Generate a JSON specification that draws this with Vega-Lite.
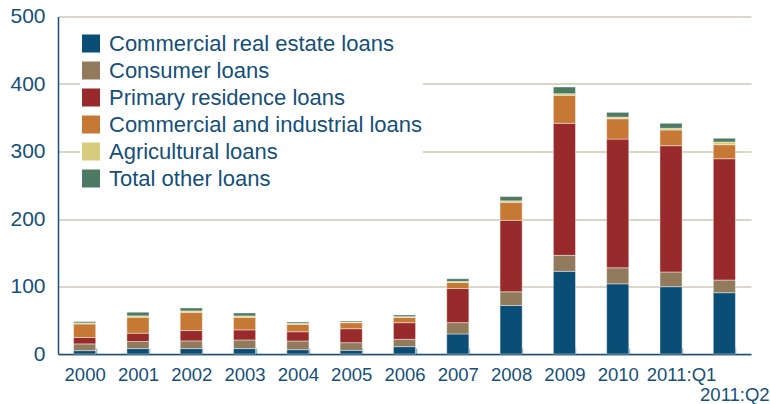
{
  "$schema": "https://vega.github.io/schema/vega-lite/v6.json",
  "autosize": {"type": "none"},
  "padding": {"left": 58, "top": 16.5, "right": 19, "bottom": 50},
  "width": 693,
  "height": 337.5,
  "background": "#ffffff",
  "data": {
    "values": [
      {"period": "2000", "Commercial real estate loans": 5, "Consumer loans": 10, "Primary residence loans": 9.5, "Commercial and industrial loans": 20, "Agricultural loans": 1.5, "Total other loans": 2},
      {"period": "2001", "Commercial real estate loans": 8, "Consumer loans": 10.5, "Primary residence loans": 12.3, "Commercial and industrial loans": 23.7, "Agricultural loans": 2, "Total other loans": 5.4},
      {"period": "2002", "Commercial real estate loans": 8, "Consumer loans": 11.4, "Primary residence loans": 15.3, "Commercial and industrial loans": 27.1, "Agricultural loans": 2, "Total other loans": 4.4},
      {"period": "2003", "Commercial real estate loans": 8, "Consumer loans": 12.8, "Primary residence loans": 14.9, "Commercial and industrial loans": 18.7, "Agricultural loans": 2, "Total other loans": 4.4},
      {"period": "2004", "Commercial real estate loans": 6.4, "Consumer loans": 12.9, "Primary residence loans": 13.7, "Commercial and industrial loans": 11, "Agricultural loans": 1.4, "Total other loans": 2},
      {"period": "2005", "Commercial real estate loans": 5.4, "Consumer loans": 11.4, "Primary residence loans": 20.7, "Commercial and industrial loans": 8.9, "Agricultural loans": 1, "Total other loans": 1.5},
      {"period": "2006", "Commercial real estate loans": 10.9, "Consumer loans": 10.8, "Primary residence loans": 24.7, "Commercial and industrial loans": 7.9, "Agricultural loans": 1, "Total other loans": 2.5},
      {"period": "2007", "Commercial real estate loans": 29.7, "Consumer loans": 16.8, "Primary residence loans": 50.5, "Commercial and industrial loans": 9, "Agricultural loans": 1.5, "Total other loans": 4},
      {"period": "2008", "Commercial real estate loans": 71.8, "Consumer loans": 20.3, "Primary residence loans": 105.9, "Commercial and industrial loans": 26.8, "Agricultural loans": 2.1, "Total other loans": 6.4},
      {"period": "2009", "Commercial real estate loans": 122.5, "Consumer loans": 23.7, "Primary residence loans": 195.6, "Commercial and industrial loans": 41.5, "Agricultural loans": 2.4, "Total other loans": 9.9},
      {"period": "2010", "Commercial real estate loans": 104, "Consumer loans": 23.8, "Primary residence loans": 190.6, "Commercial and industrial loans": 30.1, "Agricultural loans": 2.5, "Total other loans": 7},
      {"period": "2011:Q1", "Commercial real estate loans": 99.7, "Consumer loans": 21.8, "Primary residence loans": 187.1, "Commercial and industrial loans": 23.3, "Agricultural loans": 2.5, "Total other loans": 7.4},
      {"period": "2011:Q2", "Commercial real estate loans": 90.8, "Consumer loans": 18.8, "Primary residence loans": 179.7, "Commercial and industrial loans": 20.8, "Agricultural loans": 4, "Total other loans": 5.5}
    ]
  },
  "transform": [
    {"fold": ["Commercial real estate loans", "Consumer loans", "Primary residence loans", "Commercial and industrial loans", "Agricultural loans", "Total other loans"], "as": ["type", "value"]},
    {"lookup": "type", "from": {"data": {"values": [
      {"type": "Commercial real estate loans", "rank": 1},
      {"type": "Consumer loans", "rank": 2},
      {"type": "Primary residence loans", "rank": 3},
      {"type": "Commercial and industrial loans", "rank": 4},
      {"type": "Agricultural loans", "rank": 5},
      {"type": "Total other loans", "rank": 6}
    ]}, "key": "type", "fields": ["rank"]}}
  ],
  "mark": {"type": "bar", "stroke": "#ffffff", "strokeWidth": 0.7, "strokeOpacity": 0.6},
  "encoding": {
    "x": {
      "field": "period", "type": "nominal", "sort": null,
      "scale": {"paddingInner": 0.585, "paddingOuter": 0.2925},
      "axis": {
        "title": null, "labelAngle": 0, "labelFont": "Liberation Sans", "labelFontSize": 18.5,
        "labelColor": "#13507a", "labelPadding": 17, "tickBand": "extent", "ticks": true,
        "tickSize": -6, "tickColor": "#8fb2cc", "tickWidth": 1.5,
        "domainColor": "#13507a", "domainWidth": 1.5, "grid": false,
        "labelExpr": "datum.value == '2011:Q2' ? ['', '2011:Q2'] : datum.value",
        "labelLineHeight": 20,
        "labelOffset": {"condition": {"test": "indexof(['2011:Q1', '2011:Q2'], datum.value) >= 0", "value": 10}, "value": 0}
      }
    },
    "y": {
      "field": "value", "type": "quantitative", "stack": "zero",
      "scale": {"domain": [0, 500], "nice": false},
      "axis": {
        "title": null, "values": [0, 100, 200, 300, 400, 500], "labelFont": "Liberation Sans",
        "labelFontSize": 21, "labelColor": "#13507a", "labelPadding": 13, "ticks": false,
        "domainColor": "#13507a", "domainWidth": 1.5, "grid": true, "gridColor": "#dcd6c6", "gridWidth": 2
      }
    },
    "order": {"field": "rank", "type": "quantitative", "sort": "ascending"},
    "color": {
      "field": "type", "type": "nominal",
      "sort": ["Commercial real estate loans", "Consumer loans", "Primary residence loans", "Commercial and industrial loans", "Agricultural loans", "Total other loans"],
      "scale": {
        "domain": ["Commercial real estate loans", "Consumer loans", "Primary residence loans", "Commercial and industrial loans", "Agricultural loans", "Total other loans"],
        "range": ["#0a4d75", "#927a5c", "#992a2b", "#c67835", "#d7cb7c", "#4c7a63"]
      },
      "legend": {
        "title": null, "orient": "none", "legendX": 22, "legendY": 16, "padding": 0,
        "symbolType": "square", "symbolSize": 324, "symbolStrokeWidth": 0,
        "labelFont": "Liberation Sans", "labelFontSize": 22, "labelColor": "#13507a",
        "labelOffset": 7, "rowPadding": 5, "labelLimit": 500,
        "fillColor": "#ffffff"
      }
    }
  },
  "config": {"view": {"stroke": null}}
}
